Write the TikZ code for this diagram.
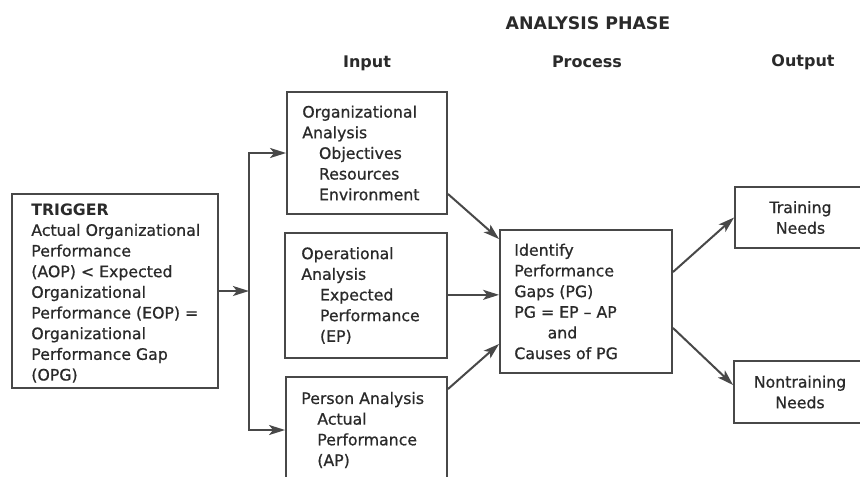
\documentclass[tikz,border=0pt]{standalone}
\usepackage{fontspec}
\setmainfont{DejaVu Sans}
\newfontfamily\bodyfont{DejaVu Sans}[FakeBold=0.7,Ligatures=TeX]
\usetikzlibrary{arrows.meta,calc}
\definecolor{ink}{HTML}{2A2A2A}
\definecolor{edge}{HTML}{484848}
\begin{document}
\begin{tikzpicture}[x=0.75pt,y=-0.75pt,
  frame/.style={draw=edge,line width=1.4pt,inner sep=0pt},
  txt/.style={anchor=west,inner sep=0pt,align=left,text=ink,font=\bodyfont\fontsize{11.8}{15.5}\selectfont},
  ctxt/.style={inner sep=0pt,align=center,text=ink,font=\bodyfont\fontsize{11.8}{15.5}\selectfont},
  arr/.style={draw=edge,line width=1.5pt,-{Stealth[length=12pt,width=7.5pt,inset=3pt]}},
  hdr/.style={text=ink,inner sep=0pt,font=\bfseries\fontsize{12}{14}\selectfont},
  hdrbig/.style={text=ink,inner sep=0pt,font=\bfseries\fontsize{13}{15}\selectfont}]
\useasboundingbox (0,0) rectangle (860,476);
\fill[white] (0,0) rectangle (860,476);
\clip (0,0) rectangle (860,476);

% headers
\node[hdrbig] (phase) at (588,23) {ANALYSIS PHASE};
\node[hdr] (hin) at (367,63) {Input};
\node[hdr] (hproc) at (587,62) {Process};
\node[hdr] (hout) at (803,62) {Output};

% boxes
\node[frame,minimum width=154.5pt,minimum height=145.5pt] (trig) at (115,291) {};
\node[txt] (trigT) at ([xshift=15pt,yshift=-1.5pt]trig.west) {{\normalfont\bfseries TRIGGER}\\Actual Organizational\\Performance\\(AOP) < Expected\\Organizational\\Performance (EOP) =\\Organizational\\Performance Gap\\(OPG)};

\node[frame,minimum width=120pt,minimum height=91.5pt] (org) at (367,153) {};
\node[txt] (orgT) at ([xshift=12pt]org.west) {Organizational\\Analysis\\\hspace*{12.5pt}Objectives\\\hspace*{12.5pt}Resources\\\hspace*{12.5pt}Environment};

\node[frame,minimum width=121.5pt,minimum height=93.75pt] (oper) at (366,295.5) {};
\node[txt] (operT) at ([xshift=12.75pt]oper.west) {Operational\\Analysis\\\hspace*{14pt}Expected\\\hspace*{14pt}Performance\\\hspace*{14pt}(EP)};

\node[frame,minimum width=120.75pt,minimum height=79.5pt] (person) at (366.5,430) {};
\node[txt] (personT) at ([xshift=12pt]person.west) {Person Analysis\\\hspace*{12pt}Actual\\\hspace*{12pt}Performance\\\hspace*{12pt}(AP)};

\node[frame,minimum width=129pt,minimum height=107.25pt] (proc) at (586,301.5) {};
\node[txt] (procT) at ([xshift=11.25pt]proc.west) {Identify\\Performance\\Gaps (PG)\\PG = EP – AP\\\hspace*{25pt}and\\Causes of PG};

\node[frame,minimum width=98.25pt,minimum height=45.75pt] (train) at (800.5,217.5) {};
\node[ctxt] (trainT) at (train.center) {Training\\Needs};

\node[frame,minimum width=99pt,minimum height=46.5pt] (nontrain) at (800,392) {};
\node[ctxt] (nontrainT) at (nontrain.center) {Nontraining\\Needs};

% connectors
\coordinate (J) at ($(trig.east)+(30,0)$);
\draw[arr] (trig.east) -- (J);
\draw[arr] (J) |- (org.west);
\draw[arr] (J) |- (person.west);
\draw[arr] ($(org.south east)+(0,-21)$) -- ($(proc.north west)+(0,10)$);
\draw[arr] ([yshift=0.5pt]oper.east) -- ([yshift=0.5pt]oper.east -| proc.west);
\draw[arr] ($(person.north east)+(0,13)$) -- ($(proc.south west)+(0,-30)$);
\draw[arr] ($(proc.north east)+(0,43)$) -- (train.west);
\draw[arr] ($(proc.south east)+(0,-46)$) -- ($(nontrain.west)+(0,-7)$);
\end{tikzpicture}
\end{document}
